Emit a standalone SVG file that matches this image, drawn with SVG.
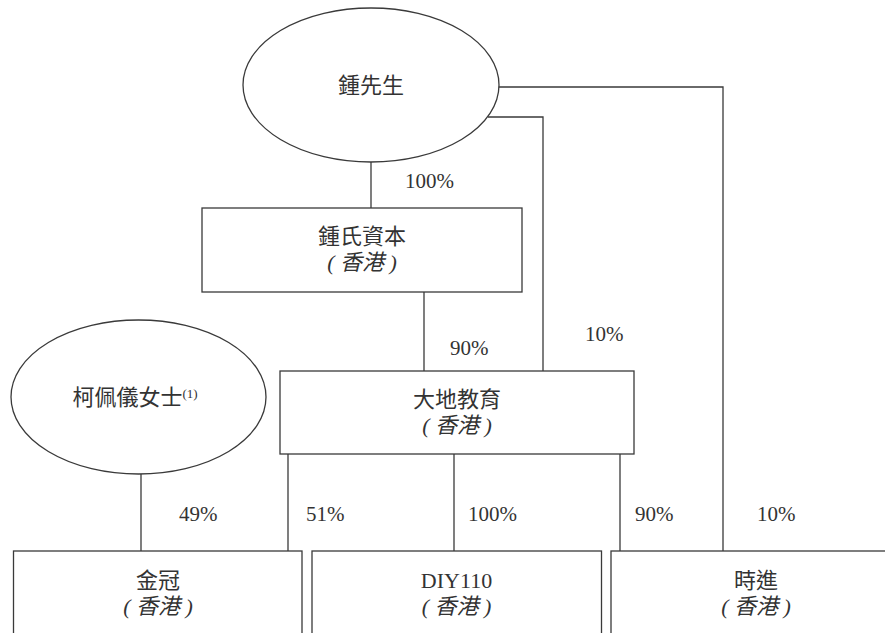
<svg xmlns="http://www.w3.org/2000/svg" width="885" height="633" viewBox="0 0 885 633">
<style>
.shape{fill:#fff;stroke:#3a3a3a;stroke-width:1.3}
.conn{fill:none;stroke:#3a3a3a;stroke-width:1.3}
.lbl{font-family:'Liberation Serif','Times New Roman','DejaVu Serif','Noto Sans CJK TC',serif;font-size:22px;fill:#333;text-anchor:middle}
.sub{font-style:italic}
.pct{font-family:'Liberation Serif','Times New Roman','DejaVu Serif',serif;font-size:21px;fill:#333}
</style>
<rect width="885" height="633" fill="#fff"/>
<g id="connectors">
<path class="conn" d="M371 162V208"/>
<path class="conn" d="M488 117H543V371"/>
<path class="conn" d="M498 87H723V551"/>
<path class="conn" d="M424 292V371"/>
<path class="conn" d="M141 474V551"/>
<path class="conn" d="M288 454V551"/>
<path class="conn" d="M454 454V551"/>
<path class="conn" d="M620 454V551"/>
</g>
<g id="pct-labels">
<text class="pct" x="405" y="188">100%</text>
<text class="pct" x="450" y="355">90%</text>
<text class="pct" x="585" y="341">10%</text>
<text class="pct" x="179" y="521">49%</text>
<text class="pct" x="306" y="521">51%</text>
<text class="pct" x="468" y="521">100%</text>
<text class="pct" x="635" y="521">90%</text>
<text class="pct" x="757" y="521">10%</text>
</g>
<g id="mr-chung">
<ellipse class="shape" cx="371" cy="85" rx="128" ry="77"/>
<text class="lbl" x="371" y="93">鍾先生</text>
</g>
<g id="chung-capital">
<rect class="shape" x="202" y="208" width="320" height="84"/>
<text class="lbl" x="362" y="244">鍾氏資本</text>
<text class="lbl sub" x="362" y="270">( 香港 )</text>
</g>
<g id="ms-or">
<ellipse class="shape" cx="138.5" cy="397" rx="127.5" ry="77"/>
<text class="lbl" x="135" y="405">柯佩儀女士<tspan font-size="13" dy="-7">(1)</tspan></text>
</g>
<g id="dadi-education">
<rect class="shape" x="280" y="371" width="354" height="83"/>
<text class="lbl" x="457" y="407">大地教育</text>
<text class="lbl sub" x="457" y="433">( 香港 )</text>
</g>
<g id="jinguan">
<rect class="shape" x="13.5" y="551" width="288.5" height="100"/>
<text class="lbl" x="158" y="588">金冠</text>
<text class="lbl sub" x="158" y="614">( 香港 )</text>
</g>
<g id="diy110">
<rect class="shape" x="312" y="551" width="289.5" height="100"/>
<text class="lbl" x="456.5" y="588">DIY110</text>
<text class="lbl sub" x="456.5" y="614">( 香港 )</text>
</g>
<g id="shijin">
<rect class="shape" x="611" y="551" width="290" height="100"/>
<text class="lbl" x="756" y="588">時進</text>
<text class="lbl sub" x="756" y="614">( 香港 )</text>
</g>
</svg>
